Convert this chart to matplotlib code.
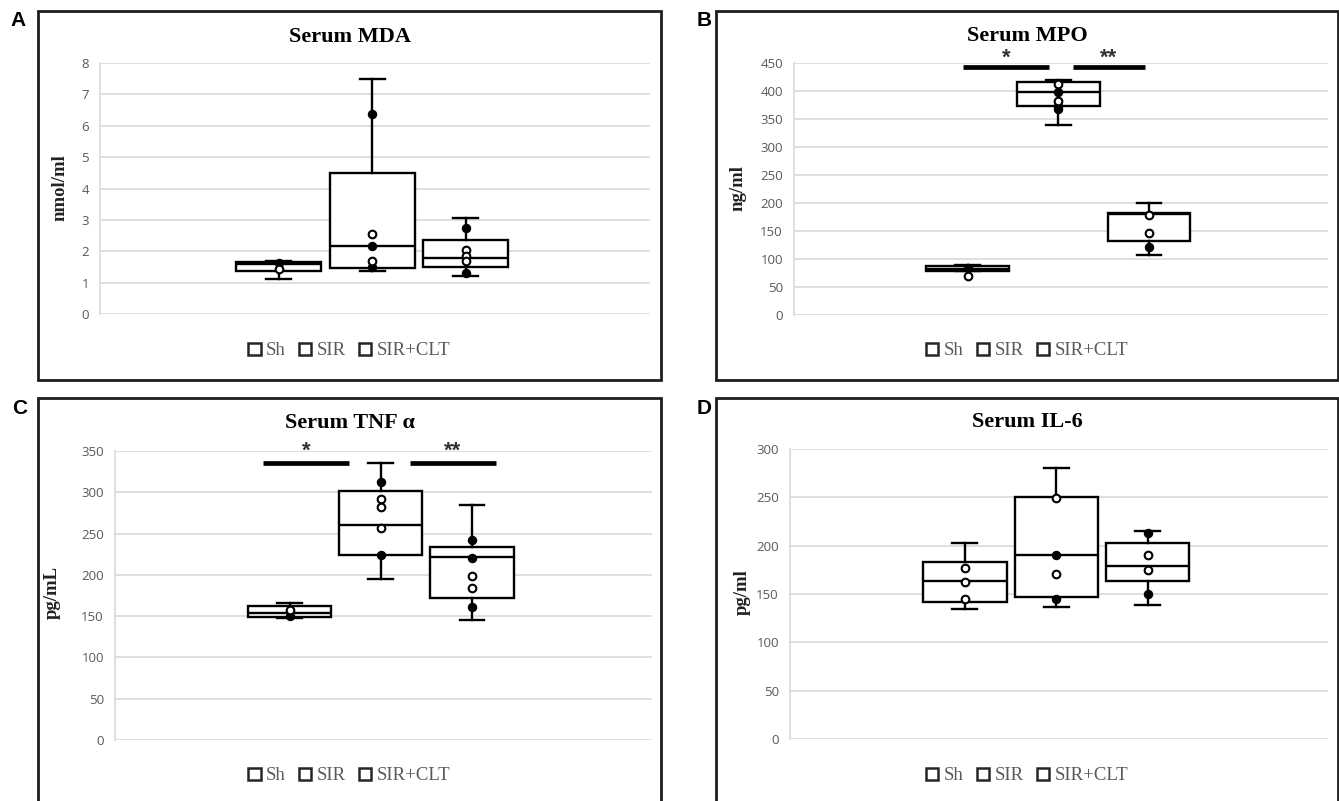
import matplotlib
matplotlib.use("Agg")
import matplotlib.pyplot as plt
from matplotlib.patches import Rectangle, Patch

W, H = 1339, 801
DPI = 100

groups = ["Sh", "SIR", "SIR+CLT"]

# ---- Data: box stats (whislo, q1, med, q3, whishi) and individual points ----
mda_stats = [[1.11, 1.37, 1.58, 1.65, 1.68],
             [1.37, 1.46, 2.16, 4.48, 7.49],
             [1.21, 1.49, 1.78, 2.35, 3.05]]
mda_filled = [[1.63], [6.38, 2.16, 1.49], [2.73, 1.30]]
mda_open = [[1.45], [2.54, 1.68], [2.03, 1.84, 1.68]]

mpo_stats = [[78, 79, 83, 87, 89],
             [339, 373, 398, 416, 420],
             [107, 132, 180, 182, 200]]
mpo_filled = [[84], [398, 373, 368], [121]]
mpo_open = [[70], [412, 382], [179, 146]]

tnf_stats = [[148, 149, 154, 162, 166],
             [195, 224, 260, 302, 335],
             [145, 172, 222, 234, 285]]
tnf_filled = [[150], [312, 224], [242, 221, 161]]
tnf_open = [[157], [292, 282, 257], [199, 184]]

il6_stats = [[134, 142, 163, 183, 203],
             [137, 147, 190, 250, 280],
             [139, 163, 179, 203, 215]]
il6_filled = [[], [190, 145], [213, 150]]
il6_open = [[177, 162, 145], [249, 171], [190, 175]]

titles = ["Serum MDA", "Serum MPO", "Serum TNF \u03b1", "Serum IL-6"]
ylabels = ["nmol/ml", "ng/ml", "pg/mL", "pg/ml"]
letters = ["A", "B", "C", "D"]
yticks = [list(range(0, 9, 1)), list(range(0, 451, 50)),
          list(range(0, 351, 50)), list(range(0, 301, 50))]

sig_labels = ["*", "**"]
mpo_sig_y = 443
tnf_sig_y = 336

# ---- Layout (pixels) ----
frames = [(38, 11, 661, 380), (716, 11, 1338, 380),
          (38, 398, 661, 806), (716, 398, 1338, 806)]
plots = [(100, 63, 650, 314), (794, 63, 1328, 315),
         (115, 451, 652, 740), (790, 449, 1328, 739)]
title_y = [37, 36, 423, 422]
ylabel_x = [60, 738, 52, 742]
ylabel_y = [188, 188, 592, 592]
legend_y = [351, 351, 776, 776]
letter_pos = [(18, 20), (704, 20), (20, 409), (704, 409)]
sig_spans = [None,
             [(0.316, 0.478), (0.522, 0.657)],
             [(0.276, 0.436), (0.549, 0.709)],
             None]
sig_vals = [None, mpo_sig_y, tnf_sig_y, None]
sig_off = [None, 6, 8, None]

positions = [0.325, 0.495, 0.665]
box_w = 0.155
cap_w = 0.046

fig = plt.figure(figsize=(W / DPI, H / DPI), dpi=DPI)
fig.patch.set_facecolor("white")

all_stats = [mda_stats, mpo_stats, tnf_stats, il6_stats]
all_filled = [mda_filled, mpo_filled, tnf_filled, il6_filled]
all_open = [mda_open, mpo_open, tnf_open, il6_open]

serif = "Liberation Serif"
tick_gray = "#595959"
grid_gray = "#d9d9d9"

for i in range(4):
    fx0, fy0, fx1, fy1 = frames[i]
    fig.add_artist(Rectangle((fx0 / W, 1 - fy1 / H), (fx1 - fx0) / W, (fy1 - fy0) / H,
                             transform=fig.transFigure, fill=False, lw=2.0,
                             ec="#1e1e1e", zorder=0))
    px0, py0, px1, py1 = plots[i]
    ax = fig.add_axes([px0 / W, 1 - py1 / H, (px1 - px0) / W, (py1 - py0) / H])
    ax.set_facecolor("none")
    ax.set_xlim(0, 1)
    yt = yticks[i]
    ax.set_ylim(yt[0], yt[-1])
    ax.set_yticks(yt)
    ax.set_xticks([])
    ax.yaxis.grid(True, color=grid_gray, lw=1.2, zorder=0)
    ax.set_axisbelow(True)
    for s in ["top", "right", "bottom"]:
        ax.spines[s].set_visible(False)
    ax.spines["left"].set_color(grid_gray)
    ax.spines["left"].set_linewidth(1.2)
    ax.tick_params(axis="y", length=0, pad=8, labelcolor=tick_gray, labelsize=9.5)
    for lab in ax.get_yticklabels():
        lab.set_fontfamily("Open Sans")

    stats = []
    for g, st in zip(groups, all_stats[i]):
        stats.append(dict(label=g, whislo=st[0], q1=st[1], med=st[2], q3=st[3],
                          whishi=st[4], fliers=[]))
    lw = 1.7
    ax.bxp(stats, positions=positions, widths=box_w, capwidths=cap_w,
           patch_artist=True, showfliers=False,
           boxprops=dict(facecolor="white", edgecolor="black", lw=lw),
           medianprops=dict(color="black", lw=lw),
           whiskerprops=dict(color="black", lw=lw),
           capprops=dict(color="black", lw=lw),
           manage_ticks=False, zorder=3)
    for j, pos in enumerate(positions):
        f = all_filled[i][j]
        o = all_open[i][j]
        if f:
            ax.plot([pos] * len(f), f, "o", ms=5.5, mfc="black", mec="black",
                    mew=1.3, zorder=5, clip_on=False)
        if o:
            ax.plot([pos] * len(o), o, "o", ms=5.5, mfc="white", mec="black",
                    mew=1.5, zorder=6, clip_on=False)

    if sig_spans[i] is not None:
        for (a, b), lab in zip(sig_spans[i], sig_labels):
            ax.plot([a, b], [sig_vals[i], sig_vals[i]], color="black", lw=3.4,
                    solid_capstyle="butt", clip_on=False, zorder=4)
            ax.annotate(lab, xy=((a + b) / 2, sig_vals[i]), xytext=(0, sig_off[i]),
                        textcoords="offset points", ha="center", va="center",
                        fontsize=16, fontweight="bold", fontfamily="Liberation Sans",
                        color="#333333", annotation_clip=False)

    cx = (fx0 + fx1) / 2
    fig.text(cx / W, 1 - title_y[i] / H, titles[i], ha="center", va="center",
             fontsize=16, fontweight="bold", fontfamily=serif)
    fig.text(ylabel_x[i] / W, 1 - ylabel_y[i] / H, ylabels[i], ha="center",
             va="center", rotation=90, fontsize=13.5, fontweight="bold",
             fontfamily=serif, color="#222222")
    lx, ly = letter_pos[i]
    fig.text(lx / W, 1 - ly / H, letters[i], ha="center", va="center",
             fontsize=15, fontweight="bold", fontfamily="Liberation Sans")

    handles = [Patch(facecolor="white", edgecolor="#262626", lw=1.8) for _ in groups]
    fig.legend(handles, groups, loc="center", bbox_to_anchor=(cx / W, 1 - legend_y[i] / H),
               ncol=3, frameon=False, handlelength=0.65, handleheight=0.65,
               handletextpad=0.3, columnspacing=0.7,
               prop=dict(family=serif, size=13.5), labelcolor=tick_gray)

fig.savefig("out.png", dpi=DPI, facecolor="white")
